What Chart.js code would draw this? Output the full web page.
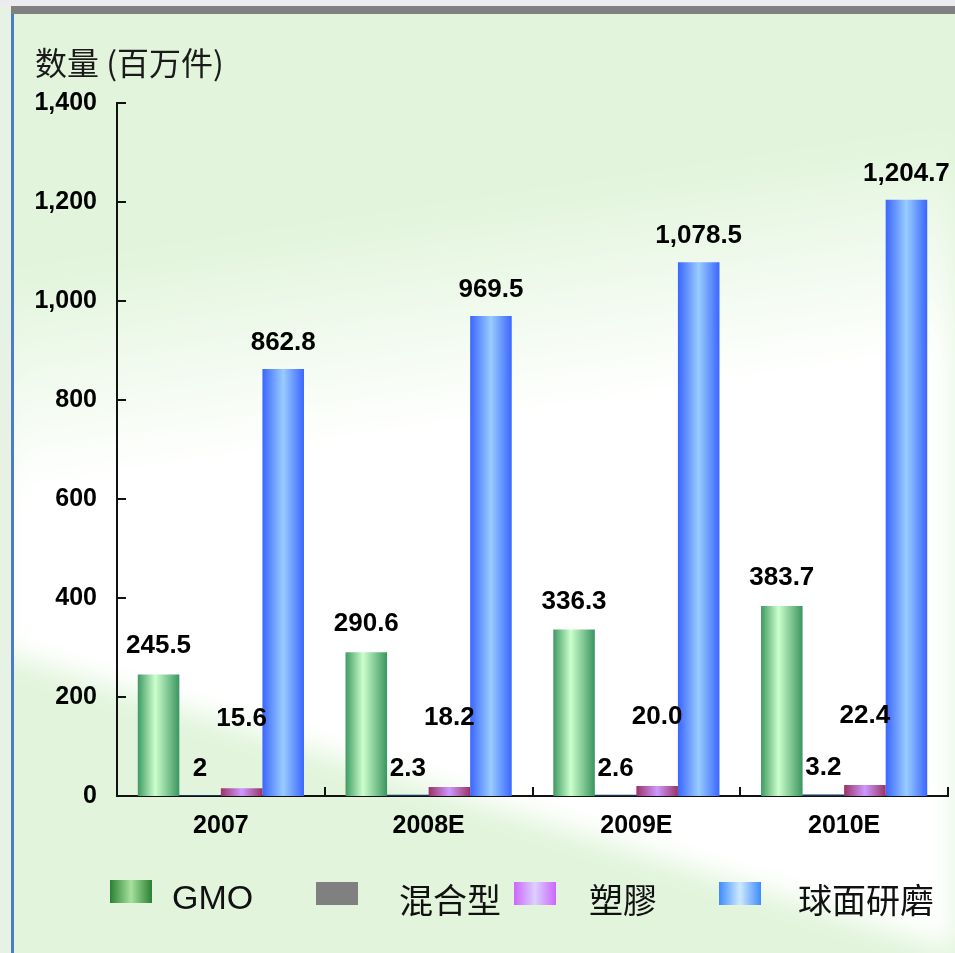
<!DOCTYPE html>
<html>
<head>
<meta charset="utf-8">
<script src="https://cdn.jsdelivr.net/npm/chart.js@4/dist/chart.umd.min.js"></script>
<style>
html,body{margin:0;padding:0;background:#e2f5dc;}
#wrap{width:955px;height:953px;position:relative;}
canvas{display:block;}
</style>
</head>
<body>
<div id="wrap"><canvas id="c" width="955" height="953"></canvas></div>
<script>
// ---- data ----
const categories = ['2007', '2008E', '2009E', '2010E'];
const seriesNames = ['GMO', '混合型', '塑膠', '球面研磨'];
const gmoValues = [245.5, 290.6, 336.3, 383.7];
const mixedValues = [2, 2.3, 2.6, 3.2];
const plasticValues = [15.6, 18.2, 20.0, 22.4];
const sphericalValues = [862.8, 969.5, 1078.5, 1204.7];
const yMin = 0, yMax = 1400, yStep = 200;
const axisTitle = '数量 (百万件)';

// ---- styling ----
const FONT = '"Liberation Sans", Arial, Helvetica, sans-serif';
const CJK = '"Noto Sans CJK TC", "Noto Sans CJK SC", sans-serif';
const W = 955, H = 953;

function barFill(stops, fallback) {
  return function (c) {
    if (c.type !== 'data') return fallback;
    const chart = c.chart, xs = chart.scales.x;
    if (!xs || !chart.chartArea) return fallback;
    const n = chart.data.labels.length;
    const cw = (xs.right - xs.left) / n;
    const center = xs.getPixelForValue(c.dataIndex);
    const left = center - cw * 0.4 + c.datasetIndex * cw * 0.2;
    const g = chart.ctx.createLinearGradient(left, 0, left + cw * 0.2, 0);
    stops.forEach(s => g.addColorStop(s[0], s[1]));
    return g;
  };
}

const fmt1 = v => v.toLocaleString('en-US', {minimumFractionDigits: 1, maximumFractionDigits: 1});
const fmtRaw = v => String(v);

const labelCfg = [
  {fmt: fmt1, gap: 21},
  {fmt: fmtRaw, gap: 19},
  {fmt: fmt1, gap: 62},
  {fmt: fmt1, gap: 19}
];

const legendCfg = [
  {box: 110, text: 172, stops: [[0,'#2c7f34'],[0.5,'#a6e29e'],[1,'#2c7f34']]},
  {box: 316, text: 399, stops: [[0,'#808080'],[1,'#808080']]},
  {box: 514, text: 589, stops: [[0,'#cc66ff'],[0.5,'#dcd0ff'],[1,'#cc66ff']]},
  {box: 719, text: 798, stops: [[0,'#3d8bff'],[0.5,'#cfeaff'],[1,'#3d8bff']]}
];

const bgPlugin = {
  id: 'bg',
  beforeDraw(chart) {
    const ctx = chart.ctx;
    ctx.save();
    ctx.fillStyle = '#e2f5dc';
    ctx.fillRect(0, 0, W, H);
    const off = document.createElement('canvas');
    off.width = W; off.height = H;
    const o = off.getContext('2d');
    const g = o.createLinearGradient(448, 200, 482, 425);
    g.addColorStop(0, 'rgba(255,255,255,0)');
    g.addColorStop(1, 'rgba(255,255,255,1)');
    o.fillStyle = g;
    o.beginPath();
    o.moveTo(-60, -20); o.lineTo(1020, -20); o.lineTo(1020, 970); o.lineTo(-60, 632);
    o.closePath(); o.fill();
    ctx.filter = 'blur(14px)';
    ctx.drawImage(off, 0, 0);
    ctx.filter = 'none';
    // frame
    ctx.fillStyle = '#e7f2e5';
    ctx.fillRect(0, 0, 11, H);
    ctx.fillStyle = '#ececf0';
    ctx.fillRect(0, 0, W, 6);
    ctx.fillStyle = '#808080';
    ctx.fillRect(11, 6, W - 11, 8);
    ctx.fillStyle = '#4a7dc4';
    ctx.fillRect(11, 14, 3, H - 14);
    ctx.restore();
  }
};

const overlayPlugin = {
  id: 'overlay',
  afterDatasetsDraw(chart) {
    const ctx = chart.ctx;
    ctx.save();
    ctx.fillStyle = '#000';
    ctx.font = 'bold 26px ' + FONT;
    ctx.textAlign = 'center';
    ctx.textBaseline = 'alphabetic';
    chart.data.datasets.forEach((ds, di) => {
      const meta = chart.getDatasetMeta(di);
      meta.data.forEach((el, i) => {
        ctx.fillText(labelCfg[di].fmt(ds.data[i]), el.x, el.y - labelCfg[di].gap);
      });
    });
    ctx.restore();
  },
  afterDraw(chart) {
    const ctx = chart.ctx;
    const xs = chart.scales.x, ys = chart.scales.y;
    ctx.save();
    // inward tick marks
    ctx.strokeStyle = '#111';
    ctx.lineWidth = 2;
    ctx.beginPath();
    ys.ticks.forEach(t => {
      const y = Math.round(ys.getPixelForValue(t.value));
      ctx.moveTo(xs.left, y); ctx.lineTo(xs.left + 9, y);
    });
    const n = chart.data.labels.length;
    const cw = (xs.right - xs.left) / n;
    for (let k = 1; k <= n; k++) {
      const x = Math.round(xs.left + k * cw);
      ctx.moveTo(x, ys.bottom); ctx.lineTo(x, ys.bottom - 9);
    }
    ctx.stroke();
    // axis title
    ctx.fillStyle = '#1a1a1a';
    ctx.font = '32px "Noto Sans CJK SC", sans-serif';
    ctx.textAlign = 'left';
    ctx.textBaseline = 'middle';
    ctx.fillText(axisTitle, 35, 63);
    // legend
    const ly = 880, bw = 42, bh = 23;
    chart.data.datasets.forEach((ds, i) => {
      const L = legendCfg[i];
      const g = ctx.createLinearGradient(L.box, 0, L.box + bw, 0);
      L.stops.forEach(s => g.addColorStop(s[0], s[1]));
      ctx.fillStyle = g;
      ctx.fillRect(L.box, ly + (i === 0 ? 0 : 2), bw, bh);
      ctx.fillStyle = '#111';
      ctx.font = (i === 0 ? '34px ' + FONT : '34px ' + CJK);
      ctx.textBaseline = 'middle';
      ctx.fillText(ds.label, L.text, 900);
    });
    ctx.restore();
  }
};

new Chart(document.getElementById('c'), {
  type: 'bar',
  data: {
    labels: categories,
    datasets: [
      {label: seriesNames[0], data: gmoValues,
       backgroundColor: barFill([[0,'#3f9a63'],[0.42,'#ccffcc'],[1,'#3a9560']], '#7cc48c')},
      {label: seriesNames[1], data: mixedValues,
       backgroundColor: '#17375e'},
      {label: seriesNames[2], data: plasticValues,
       backgroundColor: barFill([[0,'#993366'],[0.5,'#cc99ff'],[1,'#993366']], '#b070c0')},
      {label: seriesNames[3], data: sphericalValues,
       backgroundColor: barFill([[0,'#3a66ff'],[0.5,'#99ccff'],[1,'#3a66ff']], '#5a8cff')}
    ]
  },
  options: {
    responsive: false,
    animation: false,
    devicePixelRatio: 1,
    events: [],
    layout: {padding: {left: 0, right: 7, top: 103, bottom: 0}},
    datasets: {bar: {categoryPercentage: 0.8, barPercentage: 1.0, borderWidth: 0}},
    plugins: {legend: {display: false}, tooltip: {enabled: false}, title: {display: false}},
    scales: {
      x: {
        z: 1,
        grid: {display: false, drawTicks: false},
        border: {display: true, color: '#111', width: 2},
        ticks: {color: '#000', font: {family: FONT, size: 25, weight: 'bold'}, padding: 15, maxRotation: 0},
        afterFit: s => { s.height = 157; }
      },
      y: {
        z: 1,
        min: yMin, max: yMax,
        grid: {display: false, drawTicks: false},
        border: {display: true, color: '#111', width: 2},
        ticks: {stepSize: yStep, color: '#000', font: {family: FONT, size: 25, weight: 'bold'}, padding: 20},
        afterFit: s => { s.width = 117; }
      }
    }
  },
  plugins: [bgPlugin, overlayPlugin]
});
</script>
</body>
</html>
